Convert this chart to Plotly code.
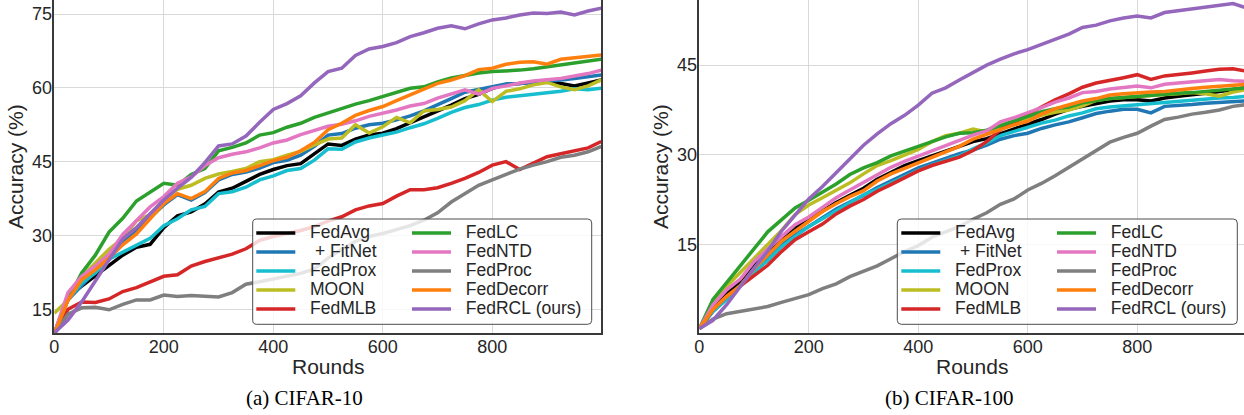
import plotly.graph_objects as go

# ---------------- data ----------------
ROUNDS = [0, 25, 50, 75, 100, 125, 150, 175, 200, 225, 250, 275, 300, 325, 350, 375,
          400, 425, 450, 475, 500, 525, 550, 575, 600, 625, 650, 675, 700, 725, 750,
          775, 800, 825, 850, 875, 900, 925, 950, 975, 999]

METHODS = ["FedAvg", " + FitNet", "FedProx", "MOON", "FedMLB",
           "FedLC", "FedNTD", "FedProc", "FedDecorr", "FedRCL (ours)"]
COLORS = ["#000000", "#1f77b4", "#17becf", "#bcbd22", "#d62728",
          "#2ca02c", "#e377c2", "#7f7f7f", "#ff7f0e", "#9467bd"]

# CIFAR-10 accuracy (%)
c10_fedavg = [10.1, 17.6, 19.7, 21.8, 24.0, 26.0, 27.6, 28.2, 31.6, 34.0, 34.8, 36.4, 38.8, 39.6, 41.0, 42.4,
              43.4, 44.2, 44.6, 46.7, 48.6, 48.3, 49.6, 50.4, 50.8, 51.7, 52.9, 54.0, 55.2, 56.5, 57.8,
              58.7, 59.9, 60.7, 60.9, 61.2, 61.5, 60.9, 60.4, 61.0, 61.6]
c10_fitnet = [10.1, 16.9, 19.8, 22.8, 25.8, 28.6, 31.0, 33.6, 36.2, 38.3, 37.2, 38.7, 41.3, 42.4, 42.9, 43.7,
              44.8, 45.3, 46.3, 48.1, 50.4, 50.7, 51.8, 52.5, 52.8, 53.5, 54.3, 55.3, 56.5, 57.8, 59.1,
              59.7, 60.2, 60.8, 60.9, 61.1, 61.3, 61.6, 61.9, 62.2, 62.6]
c10_fedprox = [10.1, 17.0, 20.3, 22.4, 25.2, 26.6, 28.1, 29.4, 32.0, 33.4, 35.2, 35.9, 38.5, 38.9, 39.8, 41.3,
               42.1, 43.2, 43.6, 45.3, 47.6, 47.5, 49.0, 49.8, 50.4, 51.0, 51.9, 52.7, 53.8, 55.0, 56.0,
               56.6, 57.5, 58.1, 58.4, 58.7, 59.0, 59.3, 59.8, 59.6, 59.9]
c10_moon = [14.2, 16.9, 21.6, 24.4, 27.2, 29.4, 33.0, 34.2, 37.2, 39.4, 40.2, 41.6, 42.5, 43.0, 43.6, 45.0,
            45.4, 46.3, 47.1, 48.4, 49.6, 49.8, 52.5, 50.8, 52.1, 54.0, 52.9, 55.3, 55.6, 56.1, 57.4,
            59.6, 57.2, 59.3, 59.8, 60.6, 61.1, 60.2, 59.6, 60.4, 61.6]
c10_fedmlb = [10.0, 15.0, 16.5, 16.4, 17.1, 18.6, 19.4, 20.6, 21.7, 22.0, 23.8, 24.7, 25.4, 26.2, 27.3, 29.0,
              29.8, 30.4, 31.0, 31.8, 32.9, 33.8, 35.2, 36.0, 36.5, 38.0, 39.3, 39.3, 39.7, 40.6, 41.6,
              42.8, 44.3, 45.0, 43.4, 44.7, 46.0, 46.6, 47.2, 47.8, 49.1]
c10_fedlc = [10.2, 17.0, 22.4, 26.0, 30.7, 33.5, 37.0, 38.8, 40.6, 40.2, 42.4, 43.6, 47.2, 47.9, 48.8, 50.4,
             50.9, 52.0, 52.8, 54.0, 54.9, 55.9, 56.7, 57.4, 58.2, 59.0, 59.9, 60.2, 61.2, 62.0, 62.5,
             63.0, 63.3, 63.4, 63.6, 63.9, 64.3, 64.7, 65.0, 65.4, 65.8]
c10_fedntd = [10.1, 18.4, 21.7, 23.8, 26.2, 30.2, 33.0, 35.8, 37.9, 40.6, 41.9, 44.2, 45.8, 46.5, 47.0, 47.8,
              48.8, 49.4, 50.5, 51.4, 52.2, 52.6, 53.3, 54.2, 54.8, 55.5, 56.3, 56.8, 57.9, 58.7, 59.6,
              58.7, 59.9, 60.4, 61.0, 61.4, 61.7, 61.9, 62.4, 62.9, 63.6]
c10_fedproc = [10.0, 14.0, 15.3, 15.4, 14.9, 16.0, 16.9, 16.9, 17.9, 17.6, 17.8, 17.6, 17.5, 18.4, 20.1, 20.6,
               21.2, 21.8, 22.3, 23.2, 25.4, 27.2, 28.8, 29.8, 30.4, 31.2, 32.0, 33.1, 34.6, 36.8, 38.6,
               40.2, 41.3, 42.4, 43.5, 44.3, 45.0, 45.9, 46.3, 47.0, 48.1]
c10_feddecorr = [10.0, 16.8, 21.0, 23.0, 25.4, 28.1, 30.3, 33.5, 36.5, 38.5, 37.5, 38.9, 41.6, 42.7, 43.2, 44.2,
                 45.2, 45.9, 47.2, 48.9, 51.5, 52.8, 54.4, 55.4, 56.2, 57.4, 58.6, 59.8, 60.9, 61.6, 62.5,
                 63.7, 64.0, 64.8, 65.2, 65.3, 64.8, 65.8, 66.1, 66.4, 66.7]
c10_fedrcl = [10.2, 12.8, 16.5, 20.8, 25.0, 29.3, 31.6, 34.5, 37.2, 39.6, 41.8, 44.8, 48.2, 48.6, 50.2, 53.0,
              55.6, 56.8, 58.4, 61.0, 63.3, 64.0, 66.6, 67.9, 68.4, 69.2, 70.4, 71.2, 72.1, 72.6, 72.0,
              73.0, 73.8, 74.2, 74.8, 75.2, 75.1, 75.4, 74.8, 75.6, 76.2]

# CIFAR-100 accuracy (%)
c100_fedavg = [0.9, 4.6, 6.9, 8.6, 11.5, 13.7, 15.8, 17.7, 19.1, 20.6, 22.0, 23.2, 24.4, 25.9, 27.0, 28.2,
               29.0, 29.8, 30.5, 31.4, 32.2, 32.7, 33.5, 34.2, 35.0, 35.9, 36.8, 37.6, 38.1, 38.6, 39.0,
               39.2, 39.2, 39.0, 39.5, 39.8, 40.0, 40.3, 40.6, 40.9, 41.2]
c100_fitnet = [0.9, 3.8, 6.0, 8.1, 10.6, 12.6, 14.9, 16.6, 18.0, 19.5, 20.9, 22.1, 23.2, 24.5, 25.6, 26.8,
               27.8, 28.6, 29.4, 30.2, 30.8, 31.6, 32.6, 33.2, 33.6, 34.4, 35.0, 35.5, 36.2, 36.9, 37.3,
               37.6, 37.6, 37.0, 38.1, 38.2, 38.4, 38.6, 38.7, 38.9, 39.0]
c100_fedprox = [0.9, 3.8, 5.8, 8.1, 10.4, 12.3, 14.6, 16.3, 18.0, 19.3, 20.6, 22.0, 23.3, 24.2, 25.3, 26.3,
                27.4, 28.3, 29.0, 29.8, 31.0, 32.0, 33.2, 33.9, 34.5, 35.3, 35.8, 36.5, 37.0, 37.7, 38.0,
                38.2, 38.4, 38.5, 38.7, 38.9, 39.1, 39.3, 39.5, 39.6, 39.8]
c100_moon = [0.9, 5.2, 8.0, 10.3, 12.6, 14.9, 17.3, 20.0, 21.6, 22.8, 24.0, 25.3, 26.8, 28.2, 29.0, 30.0,
             30.9, 32.2, 33.2, 33.6, 34.3, 33.8, 34.5, 35.2, 35.9, 36.6, 37.1, 37.5, 38.2, 39.1, 39.4,
             39.6, 39.8, 39.9, 40.1, 40.2, 40.4, 40.2, 39.8, 40.5, 40.9]
c100_fedmlb = [0.9, 4.1, 6.3, 8.0, 9.8, 11.5, 13.8, 15.8, 17.1, 18.4, 20.1, 21.4, 22.5, 23.9, 25.0, 26.2,
               27.3, 28.2, 28.9, 29.6, 30.7, 32.2, 34.2, 35.4, 36.7, 38.0, 39.2, 40.2, 41.3, 42.0, 42.4,
               42.9, 43.4, 42.6, 43.2, 43.4, 43.7, 44.0, 44.3, 44.4, 44.0]
c100_fedlc = [0.9, 5.8, 8.6, 11.5, 14.4, 17.1, 19.1, 21.1, 22.4, 23.8, 25.1, 26.7, 27.8, 28.7, 29.8, 30.6,
              31.4, 32.3, 33.0, 33.6, 33.7, 34.1, 34.9, 35.6, 36.4, 37.2, 37.7, 38.0, 38.7, 39.1, 39.4,
              39.6, 39.8, 40.0, 40.1, 40.3, 40.4, 40.6, 40.8, 41.0, 41.2]
c100_fedntd = [0.9, 4.9, 7.4, 9.2, 12.1, 14.3, 16.3, 18.3, 19.6, 21.2, 22.8, 24.1, 25.4, 26.7, 27.9, 28.9,
               29.8, 30.7, 31.6, 32.5, 33.3, 34.0, 35.5, 36.2, 37.0, 37.9, 38.8, 39.5, 40.4, 40.6, 41.0,
               41.3, 41.5, 41.2, 41.8, 42.0, 42.2, 42.4, 42.6, 42.4, 42.3]
c100_fedproc = [0.9, 2.5, 3.4, 3.8, 4.1, 4.6, 5.3, 5.9, 6.6, 7.6, 8.4, 9.6, 10.5, 11.4, 12.6, 13.8,
                14.8, 16.2, 17.1, 18.0, 19.2, 20.3, 21.7, 22.6, 24.1, 25.2, 26.5, 27.9, 29.3, 30.6, 32.1,
                32.9, 33.6, 34.8, 35.9, 36.3, 36.8, 37.1, 37.5, 38.1, 38.4]
c100_feddecorr = [0.9, 4.1, 6.3, 8.1, 10.9, 13.2, 15.5, 17.2, 18.8, 20.5, 21.8, 23.0, 24.0, 25.6, 26.8, 27.7,
                  28.6, 29.6, 30.5, 31.4, 32.6, 33.4, 34.3, 35.0, 35.6, 36.8, 37.7, 38.3, 39.0, 39.4, 40.0,
                  40.2, 40.4, 40.5, 40.6, 40.9, 41.1, 41.3, 41.5, 41.7, 41.8]
c100_fedrcl = [0.9, 2.3, 4.9, 8.0, 11.0, 13.9, 17.2, 19.9, 22.6, 24.7, 27.0, 29.3, 31.6, 33.5, 35.2, 36.6,
               38.3, 40.3, 41.2, 42.5, 43.8, 45.0, 46.0, 46.9, 47.6, 48.5, 49.4, 50.2, 51.3, 51.7, 52.4,
               52.9, 53.2, 52.9, 53.8, 54.1, 54.4, 54.8, 55.0, 55.3, 54.6]

C10 = [c10_fedavg, c10_fitnet, c10_fedprox, c10_moon, c10_fedmlb,
       c10_fedlc, c10_fedntd, c10_fedproc, c10_feddecorr, c10_fedrcl]
C100 = [c100_fedavg, c100_fitnet, c100_fedprox, c100_moon, c100_fedmlb,
        c100_fedlc, c100_fedntd, c100_fedproc, c100_feddecorr, c100_fedrcl]

X_TICKS = [0, 200, 400, 600, 800]
Y_TICKS_C10 = [15, 30, 45, 60, 75]
Y_TICKS_C100 = [15, 30, 45]
CAPTIONS = ["(a) CIFAR-10", "(b) CIFAR-100"]
X_TITLE = "Rounds"
Y_TITLE = "Accuracy (%)"

# ---------------- figure ----------------
W, H = 1244, 415
SANS = "Liberation Sans, Arial, sans-serif"
SERIF = "Liberation Serif, Times New Roman, serif"
TXT = "#262626"

fig = go.Figure()

def label(name):
    return '<span style="font-size:17.5px">\u00a0\u00a0' + name.replace(" ", "\u00a0") + '</span>'

for series, xa, ya, legs in [(C10, "x", "y", ("legend", "legend2")),
                             (C100, "x2", "y2", ("legend3", "legend4"))]:
    for i, (name, col, vals) in enumerate(zip(METHODS, COLORS, series)):
        fig.add_trace(go.Scatter(
            x=ROUNDS, y=vals, mode="lines", name=label(name),
            line=dict(color=col, width=3.5),
            xaxis=xa, yaxis=ya, legend=legs[0] if i < 5 else legs[1],
            showlegend=True))

def px_x(p):
    return p / W

def px_y(p):
    return 1 - p / H

axis_common = dict(
    showgrid=True, gridcolor="#d9d9d9", gridwidth=1.2,
    showline=True, linecolor="#3a3a3a", linewidth=1.5,
    ticks="", tickfont=dict(family=SANS, size=18, color=TXT),
    zeroline=False, automargin=False,
)
xfix = dict(ticklabelstandoff=-4)
yfix = dict(ticklabelstandoff=-3)

y_dom = [px_y(333.3), 1.0]
ytitle = dict(text=Y_TITLE, font=dict(family=SANS, size=21, color=TXT), standoff=3)

fig.update_layout(
    width=W, height=H,
    margin=dict(l=0, r=0, t=0, b=0),
    paper_bgcolor="white", plot_bgcolor="white",
    xaxis=dict(domain=[px_x(54.3), px_x(601)], range=[0, 998.5], tickvals=X_TICKS,
               mirror=True, anchor="y", **axis_common, **xfix),
    yaxis=dict(domain=y_dom, range=[10.12, 77.85], tickvals=Y_TICKS_C10,
               mirror=True, anchor="x", title=ytitle, **axis_common, **yfix),
    xaxis2=dict(domain=[px_x(699.3), 1.0], range=[0, 995], tickvals=X_TICKS,
                mirror=True, anchor="y2", **axis_common, **xfix),
    yaxis2=dict(domain=y_dom, range=[0.12, 55.9], tickvals=Y_TICKS_C100,
                mirror=False, anchor="x2", title=ytitle, **axis_common, **yfix),
    showlegend=True,
)

leg_common = dict(xanchor="left", yanchor="top", bgcolor="rgba(0,0,0,0)", borderwidth=0,
                  font=dict(family=SANS, size=12, color=TXT), itemwidth=39, tracegroupgap=0,
                  orientation="v")
legend_top = px_y(218.4)
fig.update_layout(
    legend=dict(x=px_x(251.3), y=legend_top, **leg_common),
    legend2=dict(x=px_x(407.0), y=legend_top, **leg_common),
    legend3=dict(x=px_x(896.3), y=legend_top, **leg_common),
    legend4=dict(x=px_x(1052.0), y=legend_top, **leg_common),
)

# legend frames
def frame(x0, x1, y0, y1):
    rx, ry = 4 / W, 4 / H
    X0, X1, Y0, Y1 = px_x(x0), px_x(x1), px_y(y1), px_y(y0)
    path = (f"M{X0 + rx},{Y1} L{X1 - rx},{Y1} Q{X1},{Y1} {X1},{Y1 - ry} "
            f"L{X1},{Y0 + ry} Q{X1},{Y0} {X1 - rx},{Y0} L{X0 + rx},{Y0} "
            f"Q{X0},{Y0} {X0},{Y0 + ry} L{X0},{Y1 - ry} Q{X0},{Y1} {X0 + rx},{Y1} Z")
    return dict(type="path", path=path, xref="paper", yref="paper", layer="above",
                fillcolor="rgba(255,255,255,0.8)", line=dict(color="#4d4d4d", width=1))

fig.update_layout(shapes=[frame(252.7, 591.7, 219, 324.3), frame(897.3, 1237.3, 219, 324.3)])

# x-axis titles
for cx in [327.6, 972.0]:
    fig.add_annotation(text=X_TITLE, x=px_x(cx), y=px_y(366), xref="paper", yref="paper",
                       xanchor="center", yanchor="middle", showarrow=False,
                       font=dict(family=SANS, size=21, color=TXT))

for txt, cx in zip(CAPTIONS, [304, 949]):
    fig.add_annotation(text=txt, x=px_x(cx), y=px_y(398), xref="paper", yref="paper",
                       xanchor="center", yanchor="middle", showarrow=False,
                       font=dict(family=SERIF, size=21, color="#000000"))

fig.write_html("out.html", config={"displayModeBar": False},
               post_script="document.body.style.margin='0';document.body.style.overflow='hidden';")
